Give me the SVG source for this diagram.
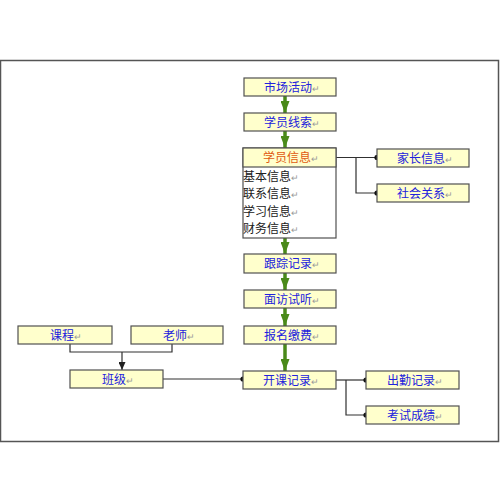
<svg xmlns="http://www.w3.org/2000/svg" width="500" height="500" viewBox="0 0 500 500">
<defs>
<style>
.box{fill:#FFFFCC;stroke:#505050;stroke-width:1.2}
.lbl{font-family:"Liberation Sans","Noto Sans CJK SC",sans-serif;font-size:12px;fill:#2222DD;text-anchor:middle}
.hd{fill:#E05A10}
.rt{fill:#999999;font-size:9px}
.det{font-family:"Liberation Sans","Noto Sans CJK SC",sans-serif;font-size:12px;fill:#202020}
.ln{fill:none;stroke:#303030;stroke-width:1.2}
.gr{stroke:#4A8A1A;stroke-width:3.5;fill:none}
</style>
<marker id="ga" markerUnits="userSpaceOnUse" markerWidth="12" markerHeight="9" refX="12" refY="4.5" orient="auto">
<path d="M0,0 L12,4.5 L0,9 Z" fill="#4A8A1A"/>
</marker>
<marker id="ba" markerUnits="userSpaceOnUse" markerWidth="8" markerHeight="7" refX="8" refY="3.5" orient="auto">
<path d="M0,0 L8,3.5 L0,7 Z" fill="#202020"/>
</marker>
<marker id="dot" markerUnits="userSpaceOnUse" markerWidth="6" markerHeight="6" refX="3" refY="3">
<circle cx="3" cy="3" r="2.6" fill="#101010"/>
</marker>
</defs>
<rect x="0.5" y="60.5" width="498" height="381" fill="#FFFFFF" stroke="#555555" stroke-width="1.5"/>
<g id="connectors">
<line class="gr" x1="285" y1="96" x2="285" y2="113" marker-end="url(#ga)"/>
<line class="gr" x1="285" y1="131" x2="285" y2="148" marker-end="url(#ga)"/>
<line class="gr" x1="285" y1="238" x2="285" y2="254" marker-end="url(#ga)"/>
<line class="gr" x1="285" y1="273" x2="285" y2="290" marker-end="url(#ga)"/>
<line class="gr" x1="285" y1="308" x2="285" y2="326" marker-end="url(#ga)"/>
<line class="gr" x1="285" y1="344" x2="285" y2="371" marker-end="url(#ga)"/>
<path class="ln" d="M336,157.5 H377" marker-end="url(#dot)"/>
<path class="ln" d="M356,157.5 V193 H377" marker-end="url(#dot)"/>
<path class="ln" d="M336,380 H366" marker-end="url(#dot)"/>
<path class="ln" d="M346,380 V415 H366" marker-end="url(#dot)"/>
<path class="ln" d="M163,379 H243" marker-end="url(#dot)"/>
<path class="ln" d="M70,344 V352 H172 V344"/>
<path class="ln" d="M122,352 V370" marker-end="url(#ba)"/>
</g>
<g id="n1"><rect class="box" x="244" y="78" width="92" height="18"/><text class="lbl" x="292" y="92">市场活动<tspan class="rt">↵</tspan></text></g>
<g id="n2"><rect class="box" x="244" y="113" width="92" height="18"/><text class="lbl" x="292" y="127">学员线索<tspan class="rt">↵</tspan></text></g>
<g id="n3">
<rect x="243" y="148" width="93" height="90" fill="#FFFFFF" stroke="#505050" stroke-width="1.2"/>
<rect class="box" x="243" y="148" width="93" height="19"/>
<text class="lbl hd" x="291" y="162">学员信息<tspan class="rt">↵</tspan></text>
<text class="det" x="243" y="181">基本信息<tspan class="rt">↵</tspan></text>
<text class="det" x="243" y="198">联系信息<tspan class="rt">↵</tspan></text>
<text class="det" x="243" y="216">学习信息<tspan class="rt">↵</tspan></text>
<text class="det" x="243" y="233">财务信息<tspan class="rt">↵</tspan></text>
</g>
<g id="n4"><rect class="box" x="377" y="149" width="92" height="18"/><text class="lbl" x="425" y="163">家长信息<tspan class="rt">↵</tspan></text></g>
<g id="n5"><rect class="box" x="377" y="184" width="92" height="18"/><text class="lbl" x="425" y="198">社会关系<tspan class="rt">↵</tspan></text></g>
<g id="n6"><rect class="box" x="244" y="254" width="92" height="19"/><text class="lbl" x="292" y="268">跟踪记录<tspan class="rt">↵</tspan></text></g>
<g id="n7"><rect class="box" x="244" y="290" width="92" height="18"/><text class="lbl" x="292" y="304">面访试听<tspan class="rt">↵</tspan></text></g>
<g id="n8"><rect class="box" x="244" y="326" width="92" height="18"/><text class="lbl" x="292" y="340">报名缴费<tspan class="rt">↵</tspan></text></g>
<g id="n9"><rect class="box" x="243" y="371" width="93" height="18"/><text class="lbl" x="291" y="385">开课记录<tspan class="rt">↵</tspan></text></g>
<g id="n10"><rect class="box" x="366" y="371" width="93" height="18"/><text class="lbl" x="415" y="385">出勤记录<tspan class="rt">↵</tspan></text></g>
<g id="n11"><rect class="box" x="366" y="406" width="93" height="18"/><text class="lbl" x="415" y="420">考试成绩<tspan class="rt">↵</tspan></text></g>
<g id="n12"><rect class="box" x="18" y="326" width="94" height="18"/><text class="lbl" x="66" y="340">课程<tspan class="rt">↵</tspan></text></g>
<g id="n13"><rect class="box" x="131" y="326" width="92" height="18"/><text class="lbl" x="179" y="340">老师<tspan class="rt">↵</tspan></text></g>
<g id="n14"><rect class="box" x="70" y="370" width="93" height="18"/><text class="lbl" x="118" y="384">班级<tspan class="rt">↵</tspan></text></g>
</svg>
